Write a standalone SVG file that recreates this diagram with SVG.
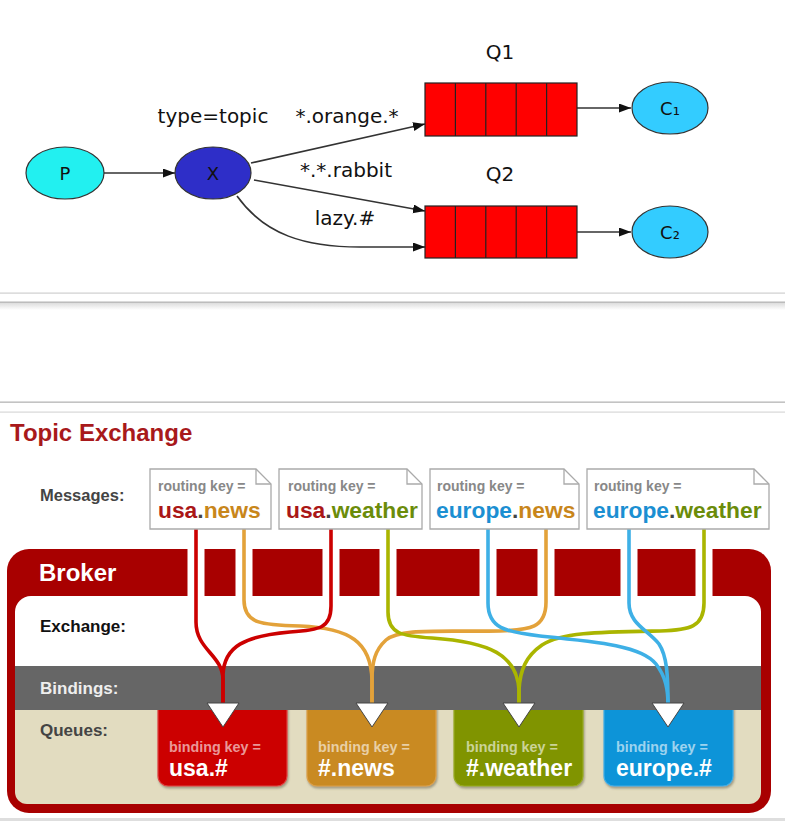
<svg xmlns="http://www.w3.org/2000/svg" width="785" height="821" viewBox="0 0 785 821">
<style>
.g{font-family:"DejaVu Sans",sans-serif;fill:#111;}
.lbl{font-size:20px;}
.edge{fill:none;stroke:#333;stroke-width:1.6;}
.cell{fill:#ff0000;stroke:#222;stroke-width:1.2;}
.b{font-family:"Liberation Sans",Arial,sans-serif;font-weight:bold;}
.msg{fill:#fff;stroke:#aaa;stroke-width:1.3;}
.rk{font-size:14px;fill:#888;}
.big{font-size:22.8px;}
.wire{fill:none;stroke-width:3.6;stroke-linecap:butt;}
.tri{fill:#fff;stroke:#444;stroke-width:1;}
.bk{font-size:14.3px;fill:#fff;fill-opacity:0.6;}
.bv{font-size:23px;fill:#fff;}
.side{font-size:17px;}
</style>
<defs>
<marker id="ah" markerUnits="userSpaceOnUse" markerWidth="13" markerHeight="10" refX="12" refY="4.5" orient="auto">
<path d="M0,0 L12,4.5 L0,9 Z" fill="#111"/>
</marker>
<linearGradient id="sep" x1="0" y1="0" x2="0" y2="1">
<stop offset="0" stop-color="#d8d8d8"/>
<stop offset="1" stop-color="#ffffff"/>
</linearGradient>
<filter id="sh" x="-10%" y="-10%" width="120%" height="130%">
<feDropShadow dx="1" dy="2" stdDeviation="1.2" flood-color="#6b6450" flood-opacity="0.55"/>
</filter>
</defs>
<rect width="785" height="821" fill="#fff"/>

<!-- top diagram -->
<g id="connectors-top">
<path class="edge" d="M104,173 L175,173" marker-end="url(#ah)"/>
<path class="edge" d="M251,163 L425,124" marker-end="url(#ah)"/>
<path class="edge" d="M254,180 L425,211" marker-end="url(#ah)"/>
<path class="edge" d="M237,196 C265,235 305,247 360,247 L425,247" marker-end="url(#ah)"/>
<path class="edge" d="M577,108 L631,108" marker-end="url(#ah)"/>
<path class="edge" d="M577,232 L631,232" marker-end="url(#ah)"/>
</g>
<g id="P">
<ellipse cx="65" cy="173" rx="39" ry="26" fill="#22f0f0" stroke="#333" stroke-width="1.2"/>
<text class="g" x="65" y="180" font-size="18" text-anchor="middle">P</text>
</g>
<g id="X">
<ellipse cx="213" cy="173" rx="38" ry="26" fill="#2e2ec8" stroke="#333" stroke-width="1.2"/>
<text class="g" x="213" y="180" font-size="18" text-anchor="middle">X</text>
</g>
<g id="Q1">
<rect class="cell" x="425" y="83" width="152" height="53"/>
<path d="M455.4,83V136M485.8,83V136M516.2,83V136M546.6,83V136" stroke="#222" stroke-width="1.2"/>
<text class="g lbl" x="500" y="59" text-anchor="middle">Q1</text>
</g>
<g id="Q2">
<rect class="cell" x="425" y="206" width="152" height="52"/>
<path d="M455.4,206V258M485.8,206V258M516.2,206V258M546.6,206V258" stroke="#222" stroke-width="1.2"/>
<text class="g lbl" x="500" y="181" text-anchor="middle">Q2</text>
</g>
<g id="C1">
<ellipse cx="670" cy="108" rx="38" ry="26" fill="#33ccff" stroke="#333" stroke-width="1.2"/>
<text class="g" x="670" y="115" font-size="18" text-anchor="middle">C₁</text>
</g>
<g id="C2">
<ellipse cx="670" cy="232" rx="38" ry="26" fill="#33ccff" stroke="#333" stroke-width="1.2"/>
<text class="g" x="670" y="239" font-size="18" text-anchor="middle">C₂</text>
</g>
<g id="top-labels">
<text class="g lbl" x="213" y="123" text-anchor="middle">type=topic</text>
<text class="g lbl" x="347" y="123" text-anchor="middle">*.orange.*</text>
<text class="g lbl" x="346" y="177" text-anchor="middle">*.*.rabbit</text>
<text class="g lbl" x="345" y="225" text-anchor="middle">lazy.#</text>
</g>

<!-- separators -->
<g id="separators">
<rect x="0" y="292.5" width="785" height="1.2" fill="#cfcfcf"/>
<rect x="0" y="302" width="785" height="8" fill="url(#sep)"/>
<rect x="0" y="301.5" width="785" height="1.3" fill="#b5b5b5"/>
<rect x="0" y="401.5" width="785" height="1.3" fill="#b5b5b5"/>
<rect x="0" y="411.5" width="785" height="1.2" fill="#d8d8d8"/>
<rect x="0" y="818" width="785" height="3" fill="#dedede"/>
</g>

<!-- bottom diagram -->
<text class="b" x="10" y="441" font-size="24" fill="#a8191b">Topic Exchange</text>
<text class="b" x="40" y="501" font-size="16.5" fill="#444">Messages:</text>

<g id="broker">
<rect x="7" y="549" width="764" height="264" rx="22" fill="#a80000"/>
<g fill="#fff">
<rect x="187.5" y="548" width="17" height="49"/>
<rect x="235.5" y="548" width="17" height="49"/>
<rect x="322.5" y="548" width="17" height="49"/>
<rect x="379.5" y="548" width="17" height="49"/>
<rect x="479.5" y="548" width="17" height="49"/>
<rect x="537.5" y="548" width="17" height="49"/>
<rect x="620.5" y="548" width="17" height="49"/>
<rect x="695.5" y="548" width="17" height="49"/>
</g>
<path d="M15,612 A16,16 0 0 1 31,596 H745 A16,16 0 0 1 761,612 V667 H15 Z" fill="#fff"/>
<path d="M15,709 H761 V792 A12,12 0 0 1 749,804 H27 A12,12 0 0 1 15,792 Z" fill="#e2dcc0"/>
<text class="b" x="39" y="581" font-size="24" fill="#fff">Broker</text>
<text class="b side" x="40" y="632" fill="#111">Exchange:</text>
<text class="b side" x="40" y="736" fill="#444">Queues:</text>
</g>

<g id="queue-usa">
<rect x="158" y="698" width="129" height="88" rx="10" fill="#cc0000" stroke="#e04040" stroke-width="1.2" filter="url(#sh)"/>
<text class="b bk" x="169" y="752">binding key =</text>
<text class="b bv" x="169" y="776">usa.#</text>
</g>
<g id="queue-news">
<rect x="307" y="698" width="129" height="88" rx="10" fill="#c98a24" stroke="#dca048" stroke-width="1.2" filter="url(#sh)"/>
<text class="b bk" x="318" y="752">binding key =</text>
<text class="b bv" x="318" y="776">#.news</text>
</g>
<g id="queue-weather">
<rect x="454" y="698" width="129" height="88" rx="10" fill="#809400" stroke="#98ab20" stroke-width="1.2" filter="url(#sh)"/>
<text class="b bk" x="466" y="752">binding key =</text>
<text class="b bv" x="466" y="776">#.weather</text>
</g>
<g id="queue-europe">
<rect x="604" y="698" width="129" height="88" rx="10" fill="#0b94d8" stroke="#40aee6" stroke-width="1.2" filter="url(#sh)"/>
<text class="b bk" x="616" y="752">binding key =</text>
<text class="b bv" x="616" y="776">europe.#</text>
</g>

<g id="bindings-band">
<rect x="15" y="666" width="746" height="44" fill="#666"/>
<text class="b side" x="40" y="694" fill="#eee">Bindings:</text>
</g>

<g id="connectors">
<path class="wire" stroke="#e3a23a" d="M244,529 V600 C244,624 262,625 300,626 C350,628 371,642 372,680 V705"/>
<path class="wire" stroke="#e3a23a" d="M546,529 V602 C546,628 530,630 500,631 C440,632 400,628 386,640 C375,650 372,662 372,680 V705"/>
<path class="wire" stroke="#aab500" d="M388,529 V612 C388,634 402,636 432,638 C490,642 517,655 519,690 V705"/>
<path class="wire" stroke="#aab500" d="M704,529 V603 C704,627 690,630 660,631 C600,632 562,632 542,645 C526,656 520,670 519,690 V705"/>
<path class="wire" stroke="#cc0000" d="M196,529 V622 C196,650 223,655 223,680 V705"/>
<path class="wire" stroke="#cc0000" d="M331,529 V606 C331,628 320,630 290,632 C245,636 224,646 223,675 V705"/>
<path class="wire" stroke="#3eb0e6" d="M488,529 V603 C488,628 505,632 540,636 C600,642 642,646 656,664 C666,677 668,690 668,705"/>
<path class="wire" stroke="#3eb0e6" d="M629,529 V603 C629,624 648,630 659,644 C667,656 668,675 668,705"/>
</g>

<g id="arrows">
<polygon class="tri" points="207,703 239,703 223,727"/>
<polygon class="tri" points="356,703 388,703 372,727"/>
<polygon class="tri" points="503,703 535,703 519,727"/>
<polygon class="tri" points="652,703 684,703 668,727"/>
</g>

<g id="msg-usa-news">
<path class="msg" d="M150,469 H256 L271,484 V529 H150 Z"/>
<path d="M256,469 V484 H271" fill="none" stroke="#aaa" stroke-width="1.3"/>
<text class="b rk" x="158" y="491">routing key =</text>
<text class="b big" x="158" y="518"><tspan fill="#aa1717">usa</tspan><tspan fill="#444">.</tspan><tspan fill="#c8861b">news</tspan></text>
</g>
<g id="msg-usa-weather">
<path class="msg" d="M279,469 H407 L422,484 V529 H279 Z"/>
<path d="M407,469 V484 H422" fill="none" stroke="#aaa" stroke-width="1.3"/>
<text class="b rk" x="288" y="491">routing key =</text>
<text class="b big" x="286" y="518"><tspan fill="#aa1717">usa</tspan><tspan fill="#444">.</tspan><tspan fill="#6b8c0a">weather</tspan></text>
</g>
<g id="msg-europe-news">
<path class="msg" d="M430,469 H564 L579,484 V529 H430 Z"/>
<path d="M564,469 V484 H579" fill="none" stroke="#aaa" stroke-width="1.3"/>
<text class="b rk" x="437" y="491">routing key =</text>
<text class="b big" x="436" y="518"><tspan fill="#1b8fd2">europe</tspan><tspan fill="#444">.</tspan><tspan fill="#c8861b">news</tspan></text>
</g>
<g id="msg-europe-weather">
<path class="msg" d="M587,469 H754 L769,484 V529 H587 Z"/>
<path d="M754,469 V484 H769" fill="none" stroke="#aaa" stroke-width="1.3"/>
<text class="b rk" x="594" y="491">routing key =</text>
<text class="b big" x="593" y="518"><tspan fill="#1b8fd2">europe</tspan><tspan fill="#444">.</tspan><tspan fill="#6b8c0a">weather</tspan></text>
</g>
</svg>
